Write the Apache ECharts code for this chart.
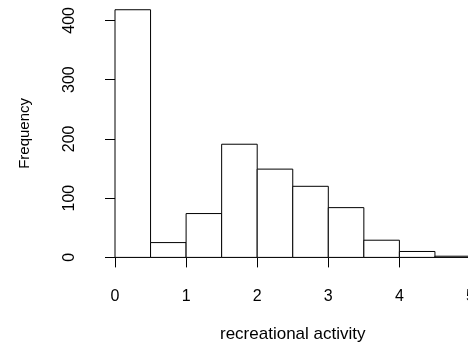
<!DOCTYPE html>
<html>
<head>
<meta charset="utf-8">
<script src="https://cdn.jsdelivr.net/npm/echarts@6/dist/echarts.min.js"></script>
<style>
    html, body { margin: 0; padding: 0; background: #fff; }
    #hist_chart { width: 468px; height: 343px; }
</style>
</head>
<body>
<div id="hist_chart"></div>
<script>
// histogram data (bin edges and counts)
var breaks = [0, 0.5, 1, 1.5, 2, 2.5, 3, 3.5, 4, 4.5, 5];
var counts = [418, 25, 74, 191, 149, 120, 84, 29, 10, 2];
var xTicks = [0, 1, 2, 3, 4, 5];
var yTicks = [0, 100, 200, 300, 400];

var bins = [];
for (var i = 0; i < counts.length; i++) {
    bins.push([breaks[i], breaks[i + 1], counts[i]]);
}

var font = "'Liberation Sans', Arial, Helvetica, sans-serif";
var histChart = echarts.init(document.getElementById('hist_chart'));

histChart.setOption({
    animation: false,
    grid: {
        left: 115,
        width: 355.5,
        top: 20.4,
        bottom: 85.6,
        containLabel: false,
        outerBoundsMode: 'none'
    },
    xAxis: {
        type: 'value',
        min: xTicks[0],
        max: xTicks[xTicks.length - 1],
        interval: 1,
        offset: 10,
        name: 'recreational activity',
        nameLocation: 'middle',
        nameGap: 58,
        nameTextStyle: { color: '#000', fontFamily: font, fontSize: 17 },
        axisLine: { lineStyle: { color: '#000', width: 1 } },
        axisTick: { length: 10, lineStyle: { color: '#000', width: 1 } },
        axisLabel: { color: '#000', fontFamily: font, fontSize: 16, margin: 21 },
        splitLine: { show: false }
    },
    yAxis: {
        type: 'value',
        min: yTicks[0],
        max: yTicks[yTicks.length - 1],
        interval: 100,
        offset: 14,
        name: 'Frequency',
        nameLocation: 'middle',
        nameGap: 69,
        nameTextStyle: { color: '#000', fontFamily: font, fontSize: 15, padding: [0, 0, 0, 11] },
        axisLine: { show: true, lineStyle: { color: '#000', width: 1 } },
        axisTick: { show: true, length: 10, lineStyle: { color: '#000', width: 1 } },
        axisLabel: { color: '#000', fontFamily: font, fontSize: 16, rotate: 90, margin: 23 },
        splitLine: { show: false }
    },
    series: [{
        type: 'custom',
        clip: false,
        data: bins,
        encode: { x: [0, 1], y: 2 },
        renderItem: function (params, api) {
            var p0 = api.coord([api.value(0), api.value(2)]);
            var p1 = api.coord([api.value(1), 0]);
            return {
                type: 'rect',
                shape: { x: p0[0], y: p0[1], width: p1[0] - p0[0], height: p1[1] - p0[1] },
                style: { fill: '#fff', stroke: '#000', lineWidth: 1 }
            };
        }
    }]
});
</script>
</body>
</html>
